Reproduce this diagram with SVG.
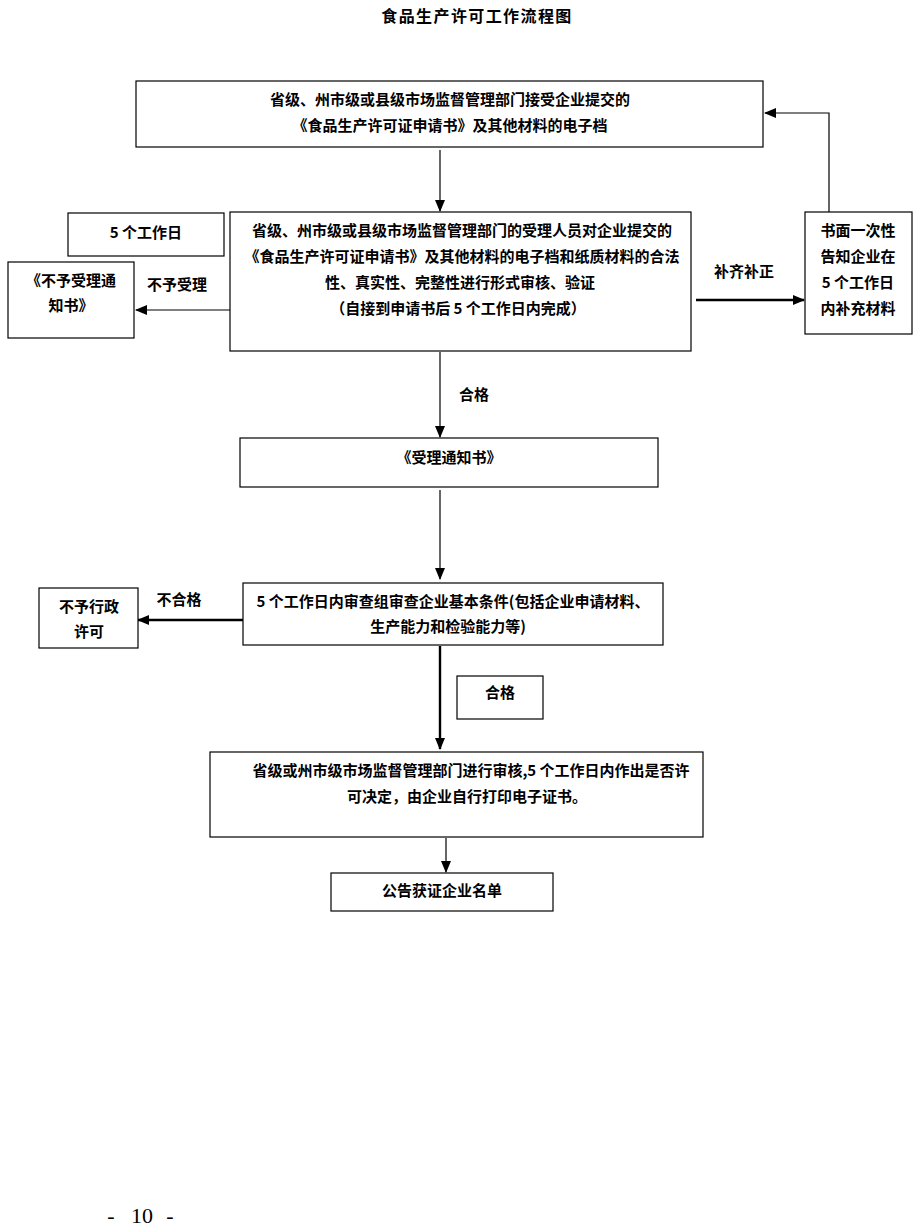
<svg xmlns="http://www.w3.org/2000/svg" width="924" height="1230" viewBox="0 0 924 1230">
<style>
.box{fill:#fff;stroke:#000;stroke-width:1.2}
.t{font-family:"Noto Sans CJK SC","Liberation Sans",sans-serif;font-size:15px;font-weight:bold;fill:#000;text-anchor:middle}
.ln{stroke:#000;stroke-width:1.2;fill:none}
.thick{stroke:#000;stroke-width:2.4;fill:none}
.pg{font-family:"Liberation Serif",serif;font-size:22px;fill:#000;text-anchor:middle}
</style>
<defs>
<marker id="ah" markerUnits="userSpaceOnUse" markerWidth="12" markerHeight="10" refX="11" refY="5" orient="auto">
<path d="M0,0 L12,5 L0,10 Z" fill="#000"/>
</marker>
</defs>
<rect width="924" height="1230" fill="#fff"/>
<text x="477" y="22" font-family="'Noto Sans CJK SC',serif" font-size="16" font-weight="bold" text-anchor="middle" letter-spacing="1.4">食品生产许可工作流程图</text>

<g id="connectors">
<line class="ln" x1="440" y1="150" x2="440" y2="211" marker-end="url(#ah)"/>
<line class="ln" x1="230" y1="310" x2="136" y2="310" marker-end="url(#ah)"/>
<line class="thick" x1="696" y1="300" x2="804" y2="300" marker-end="url(#ah)"/>
<polyline class="ln" points="829,212 829,113 765,113" marker-end="url(#ah)"/>
<line class="ln" x1="440" y1="352" x2="440" y2="437" marker-end="url(#ah)"/>
<line class="ln" x1="440" y1="490" x2="440" y2="579" marker-end="url(#ah)"/>
<line class="thick" x1="243" y1="620" x2="138" y2="620" marker-end="url(#ah)"/>
<line class="thick" x1="440" y1="646" x2="440" y2="749" marker-end="url(#ah)"/>
<line class="ln" x1="446" y1="838" x2="446" y2="872" marker-end="url(#ah)"/>
<text class="t" x="177" y="290">不予受理</text>
<text class="t" x="744" y="277">补齐补正</text>
<text class="t" x="474" y="400">合格</text>
<text class="t" x="179" y="605">不合格</text>
</g>

<g id="n1">
<rect class="box" x="136" y="81" width="627" height="66"/>
<text class="t" x="450" y="105">省级、州市级或县级市场监督管理部门接受企业提交的</text>
<text class="t" x="450" y="131">《食品生产许可证申请书》及其他材料的电子档</text>
</g>

<g id="n2">
<rect class="box" x="230" y="212" width="461" height="139"/>
<text class="t" x="462" y="236">省级、州市级或县级市场监督管理部门的受理人员对企业提交的</text>
<text class="t" x="462" y="262">《食品生产许可证申请书》及其他材料的电子档和纸质材料的合法</text>
<text class="t" x="460" y="288">性、真实性、完整性进行形式审核、验证</text>
<text class="t" x="458" y="314">（自接到申请书后 5 个工作日内完成）</text>
</g>

<g id="n-days">
<rect class="box" x="68" y="213" width="156" height="43"/>
<text class="t" x="146" y="238">5 个工作日</text>
</g>

<g id="n-reject">
<rect class="box" x="8" y="262" width="126" height="76"/>
<text class="t" x="71" y="286">《不予受理通</text>
<text class="t" x="71" y="311">知书》</text>
</g>

<g id="n-supp">
<rect class="box" x="805" y="212" width="107" height="122"/>
<text class="t" x="858" y="236">书面一次性</text>
<text class="t" x="858" y="262">告知企业在</text>
<text class="t" x="858" y="288">5 个工作日</text>
<text class="t" x="858" y="314">内补充材料</text>
</g>

<g id="n3">
<rect class="box" x="240" y="438" width="418" height="49"/>
<text class="t" x="449" y="463">《受理通知书》</text>
</g>

<g id="n4">
<rect class="box" x="243" y="583" width="420" height="62"/>
<text class="t" x="453" y="607">5 个工作日内审查组审查企业基本条件(包括企业申请材料、</text>
<text class="t" x="448" y="632">生产能力和检验能力等)</text>
</g>

<g id="n-deny">
<rect class="box" x="39" y="588" width="99" height="60"/>
<text class="t" x="89" y="612">不予行政</text>
<text class="t" x="89" y="637">许可</text>
</g>

<g id="n-pass">
<rect class="box" x="457" y="676" width="86" height="43"/>
<text class="t" x="500" y="698">合格</text>
</g>

<g id="n5">
<rect class="box" x="210" y="752" width="493" height="85"/>
<text class="t" x="471" y="776">省级或州市级市场监督管理部门进行审核,5 个工作日内作出是否许</text>
<text class="t" x="467" y="802">可决定，由企业自行打印电子证书。</text>
</g>

<g id="n6">
<rect class="box" x="331" y="873" width="222" height="38"/>
<text class="t" x="442" y="896">公告获证企业名单</text>
</g>

<text class="pg" x="111" y="1223">-</text>
<text class="pg" x="142" y="1223">10</text>
<text class="pg" x="170" y="1223">-</text>
</svg>
